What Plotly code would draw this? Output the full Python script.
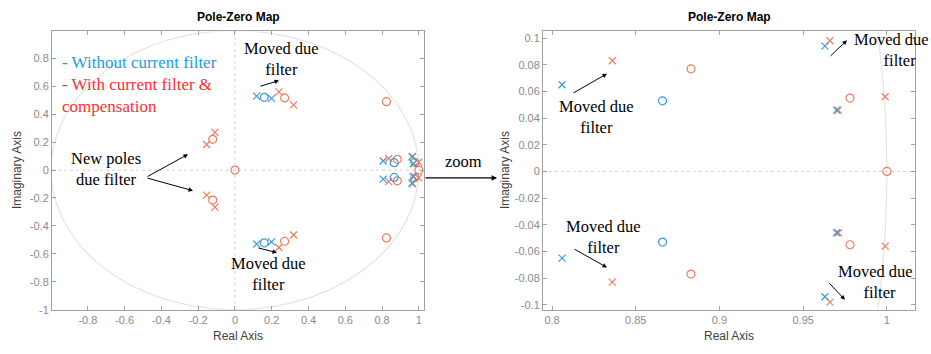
import numpy as np
import plotly.graph_objects as go

# ---------------- data ----------------
# poles / zeros without current filter (blue)
blue_pole_re = [0.118, 0.118, 0.199, 0.199, 0.806, 0.806, 0.963, 0.963, 0.970, 0.970]
blue_pole_im = [0.530, -0.530, 0.514, -0.514, 0.065, -0.065, 0.094, -0.094, 0.046, -0.046]
blue_zero_re = [0.159, 0.159, 0.866, 0.866]
blue_zero_im = [0.521, -0.521, 0.053, -0.053]

# poles / zeros with current filter & compensation (red)
red_pole_re = [-0.154, -0.154, -0.109, -0.109, 0.239, 0.239, 0.319, 0.319,
               0.836, 0.836, 0.966, 0.966, 0.971, 0.971, 0.999, 0.999]
red_pole_im = [0.183, -0.180, 0.270, -0.265, 0.560, -0.555, 0.467, -0.465,
               0.083, -0.083, 0.098, -0.098, 0.046, -0.046, 0.056, -0.056]
red_zero_re = [0.0, -0.121, -0.121, 0.270, 0.270, 0.824, 0.824, 0.883, 0.883, 0.978, 0.978, 1.0]
red_zero_im = [0.0, 0.220, -0.215, 0.517, -0.510, 0.490, -0.486, 0.077, -0.077, 0.055, -0.055, 0.0]

left_xticks = [-0.8, -0.6, -0.4, -0.2, 0, 0.2, 0.4, 0.6, 0.8, 1]
left_xlabels = ["-0.8", "-0.6", "-0.4", "-0.2", "0", "0.2", "0.4", "0.6", "0.8", "1"]
left_yticks = [-1, -0.8, -0.6, -0.4, -0.2, 0, 0.2, 0.4, 0.6, 0.8]
left_ylabels = ["-1", "-0.8", "-0.6", "-0.4", "-0.2", "0", "0.2", "0.4", "0.6", "0.8"]
right_xticks = [0.8, 0.85, 0.9, 0.95, 1]
right_xlabels = ["0.8", "0.85", "0.9", "0.95", "1"]
right_yticks = [-0.1, -0.08, -0.06, -0.04, -0.02, 0, 0.02, 0.04, 0.06, 0.08, 0.1]
right_ylabels = ["-0.1", "-0.08", "-0.06", "-0.04", "-0.02", "0", "0.02", "0.04", "0.06", "0.08", "0.1"]

# ---------------- styling ----------------
W, H = 931, 354
BLUE = "#3A9BD9"
RED = "#EF7C5C"
GRID = "#d0d0d0"
AX = "#a0a0a0"
TICKF = dict(family="Liberation Sans, Arial", size=11, color="#8a8a8a")
SERIF = "Liberation Serif, Times New Roman, serif"
FS = 16.5

def px(xp):
    return xp / W

def py(yp):
    return 1 - yp / H

fig = go.Figure()

theta = np.linspace(0, 2 * np.pi, 721)
for xa, ya in (("x", "y"), ("x2", "y2")):
    fig.add_trace(go.Scatter(x=np.cos(theta), y=np.sin(theta), mode="lines",
                             line=dict(color="#e4e4e4", width=1.2),
                             xaxis=xa, yaxis=ya, hoverinfo="skip", showlegend=False))
    fig.add_trace(go.Scatter(x=red_zero_re, y=red_zero_im, mode="markers",
                             marker=dict(symbol="circle-open", size=8, color=RED, line=dict(width=1.2)),
                             xaxis=xa, yaxis=ya, showlegend=False))
    fig.add_trace(go.Scatter(x=red_pole_re, y=red_pole_im, mode="markers",
                             marker=dict(symbol="x-thin-open", size=7, color=RED, line=dict(width=1.2, color=RED)),
                             xaxis=xa, yaxis=ya, showlegend=False))
    fig.add_trace(go.Scatter(x=blue_zero_re, y=blue_zero_im, mode="markers",
                             marker=dict(symbol="circle-open", size=8, color=BLUE, line=dict(width=1.2)),
                             xaxis=xa, yaxis=ya, showlegend=False))
    fig.add_trace(go.Scatter(x=blue_pole_re, y=blue_pole_im, mode="markers",
                             marker=dict(symbol="x-thin-open", size=7, color=BLUE, line=dict(width=1.2, color=BLUE)),
                             xaxis=xa, yaxis=ya, showlegend=False))

ydom = [py(315), py(32)]
axis_common = dict(showline=True, linecolor=AX, linewidth=1, mirror="ticks", ticks="inside",
                   ticklen=4, tickcolor=AX, showgrid=False, zeroline=False, tickfont=TICKF,
                   tickmode="array")

fig.update_layout(
    width=W, height=H, margin=dict(l=0, r=0, t=0, b=0),
    paper_bgcolor="white", plot_bgcolor="white",
    xaxis=dict(domain=[px(52), px(424)], range=[-0.995, 1.028], tickvals=left_xticks,
               ticktext=left_xlabels, anchor="y", **axis_common),
    yaxis=dict(domain=ydom, range=[-1.0, 0.993], tickvals=left_yticks,
               ticktext=left_ylabels, anchor="x", **axis_common),
    xaxis2=dict(domain=[px(543), px(915)], range=[0.7946, 1.0168], tickvals=right_xticks,
                ticktext=right_xlabels, anchor="y2", **axis_common),
    yaxis2=dict(domain=ydom, range=[-0.1037, 0.105], tickvals=right_yticks,
                ticktext=right_ylabels, anchor="x2", **axis_common),
)

# dotted zero lines
shapes = [
    dict(type="line", xref="x", yref="y", x0=-0.995, x1=1.028, y0=0, y1=0,
         line=dict(color=GRID, width=1, dash="dot"), layer="below"),
    dict(type="line", xref="x", yref="y", x0=0, x1=0, y0=-1, y1=0.993,
         line=dict(color=GRID, width=1, dash="dot"), layer="below"),
    dict(type="line", xref="x2", yref="y2", x0=0.7946, x1=1.0168, y0=0, y1=0,
         line=dict(color=GRID, width=1, dash="dot"), layer="below"),
]
fig.update_layout(shapes=shapes)

ann = []

def text(x, y, t, size=FS, color="black", family=SERIF, bold=False, xanchor="center",
         angle=0, align="center"):
    if bold:
        t = "<b>" + t + "</b>"
    ann.append(dict(xref="paper", yref="paper", x=px(x), y=py(y), text=t, showarrow=False,
                    font=dict(family=family, size=size, color=color), xanchor=xanchor,
                    yanchor="middle", textangle=angle, align=align))

def arrow(x0, y0, x1, y1, width=1.0, size=0.9):
    ann.append(dict(xref="paper", yref="paper", x=px(x1), y=py(y1), ax=x0 - x1, ay=y0 - y1,
                    axref="pixel", ayref="pixel", text="", showarrow=True, arrowhead=2,
                    arrowsize=size, arrowwidth=width, arrowcolor="black", standoff=0, startstandoff=0))

SANS = "Liberation Sans, Arial"
# titles and axis labels
text(238, 17, "Pole-Zero Map", size=12, family=SANS, bold=True)
text(729, 17, "Pole-Zero Map", size=12, family=SANS, bold=True)
text(238, 342, "Real Axis", size=12, family=SANS, color="#404040")
text(729, 342, "Real Axis", size=12, family=SANS, color="#404040")
text(17, 173, "Imaginary Axis", size=12, family=SANS, color="#404040", angle=-90)
text(505, 173, "Imaginary Axis", size=12, family=SANS, color="#404040", angle=-90)

# legend text
text(60, 86, "<span style='color:#1E9BDB'>- Without current filter</span><br>"
             "- With current filter &amp;<br>compensation",
     size=17, color="#FF2E2E", xanchor="left", align="left")

MD = "Moved due<br>filter"
# left plot annotations
text(281, 60, MD)
arrow(259, 88, 279, 82)
text(106, 172, "New poles<br>due filter")
arrow(146, 180, 188, 157)
arrow(146, 181, 193, 194)
text(268, 279, MD)
arrow(257, 252, 277, 257)

# zoom arrow
text(463, 164, "zoom")
arrow(424, 181, 497, 181, width=1.2)

# right plot annotations
text(596, 119, MD)
arrow(572, 95, 607, 75)
text(891, 51, "Moved due<br>&#8194;&#8194;filter")
arrow(829, 58, 847, 41)
text(603, 241, MD)
arrow(573, 253, 607, 272)
text(875, 287, "Moved due<br>&#8194;filter")
arrow(828, 287, 845, 305)

fig.update_layout(annotations=ann)
fig.write_html("out.html")
